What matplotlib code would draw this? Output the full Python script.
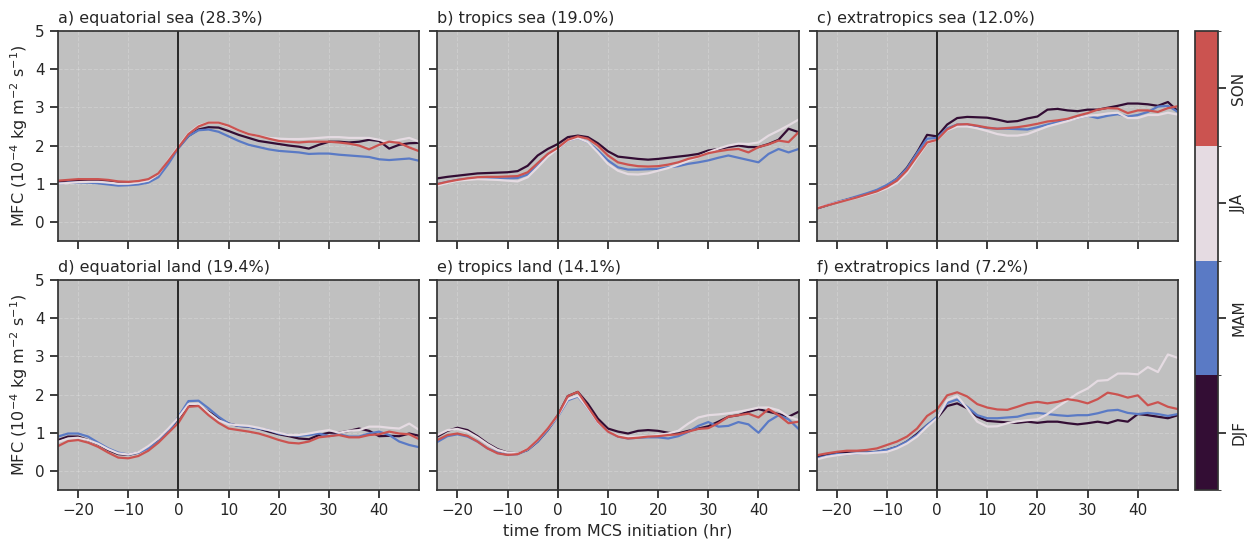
import numpy as np
import matplotlib
matplotlib.use("Agg")
import matplotlib.pyplot as plt
from matplotlib.colors import ListedColormap, BoundaryNorm
from matplotlib.colorbar import ColorbarBase

# hours relative to MCS initiation
hours = np.arange(-24, 49, 2)

seasons = ["DJF", "MAM", "JJA", "SON"]
season_colors = ["#330d34", "#5a7ac5", "#e5dbe2", "#cb5350"]

# a) equatorial sea
eq_sea_djf = [1.05, 1.07, 1.08, 1.09, 1.09, 1.07, 1.04, 1.03, 1.05, 1.10, 1.25, 1.60, 1.95, 2.25, 2.42, 2.48, 2.47, 2.38, 2.28,
              2.20, 2.12, 2.08, 2.04, 2.00, 1.97, 1.92, 2.02, 2.10, 2.10, 2.08, 2.10, 2.15, 2.12, 1.92, 2.02, 2.06, 2.07]
eq_sea_mam = [1.00, 1.03, 1.03, 1.03, 1.01, 0.98, 0.95, 0.96, 0.98, 1.03, 1.17, 1.52, 1.93, 2.25, 2.40, 2.42, 2.36, 2.24, 2.12,
              2.02, 1.96, 1.90, 1.86, 1.84, 1.82, 1.78, 1.79, 1.79, 1.76, 1.74, 1.72, 1.70, 1.64, 1.62, 1.64, 1.66, 1.60]
eq_sea_jja = [1.00, 1.02, 1.04, 1.05, 1.05, 1.03, 1.00, 1.00, 1.03, 1.08, 1.25, 1.62, 1.98, 2.32, 2.52, 2.60, 2.60, 2.50, 2.40,
              2.30, 2.25, 2.20, 2.18, 2.17, 2.17, 2.18, 2.20, 2.22, 2.22, 2.20, 2.20, 2.20, 2.15, 2.08, 2.15, 2.20, 2.10]
eq_sea_son = [1.08, 1.10, 1.12, 1.12, 1.12, 1.10, 1.06, 1.05, 1.07, 1.12, 1.27, 1.60, 1.95, 2.30, 2.50, 2.60, 2.60, 2.52, 2.40,
              2.30, 2.25, 2.18, 2.12, 2.10, 2.08, 2.10, 2.10, 2.10, 2.08, 2.05, 2.00, 1.90, 2.02, 2.10, 2.07, 1.95, 1.85]

# b) tropics sea
tr_sea_djf = [1.14, 1.18, 1.21, 1.24, 1.27, 1.28, 1.29, 1.30, 1.33, 1.47, 1.74, 1.91, 2.04, 2.22, 2.26, 2.22, 2.06, 1.85, 1.71,
              1.68, 1.65, 1.63, 1.65, 1.68, 1.71, 1.74, 1.78, 1.87, 1.91, 1.96, 2.00, 1.96, 1.96, 2.04, 2.15, 2.44, 2.35]
tr_sea_mam = [0.99, 1.05, 1.10, 1.13, 1.15, 1.14, 1.13, 1.14, 1.15, 1.24, 1.47, 1.74, 1.91, 2.13, 2.20, 2.09, 1.87, 1.61, 1.43,
              1.37, 1.37, 1.38, 1.39, 1.43, 1.46, 1.52, 1.56, 1.61, 1.68, 1.74, 1.68, 1.62, 1.56, 1.78, 1.91, 1.82, 1.91]
tr_sea_jja = [0.95, 1.02, 1.08, 1.10, 1.12, 1.11, 1.10, 1.08, 1.06, 1.17, 1.43, 1.71, 1.91, 2.13, 2.20, 2.09, 1.82, 1.52, 1.34,
              1.25, 1.24, 1.27, 1.34, 1.41, 1.50, 1.60, 1.70, 1.82, 1.92, 2.00, 2.05, 2.04, 2.08, 2.26, 2.39, 2.53, 2.68]
tr_sea_son = [0.99, 1.05, 1.10, 1.14, 1.17, 1.18, 1.18, 1.19, 1.20, 1.30, 1.54, 1.78, 1.94, 2.15, 2.24, 2.18, 2.00, 1.74, 1.56,
              1.50, 1.46, 1.45, 1.46, 1.50, 1.56, 1.65, 1.71, 1.80, 1.85, 1.89, 1.91, 1.82, 1.96, 2.03, 2.13, 2.09, 2.35]

# c) extratropics sea
ex_sea_djf = [0.35, 0.43, 0.51, 0.58, 0.65, 0.73, 0.82, 0.95, 1.13, 1.42, 1.82, 2.28, 2.24, 2.55, 2.72, 2.75, 2.74, 2.73, 2.68,
              2.62, 2.64, 2.71, 2.76, 2.94, 2.96, 2.92, 2.90, 2.94, 2.94, 2.99, 3.04, 3.10, 3.10, 3.08, 3.04, 3.14, 2.90]
ex_sea_mam = [0.35, 0.44, 0.52, 0.59, 0.67, 0.75, 0.84, 0.97, 1.13, 1.40, 1.80, 2.18, 2.20, 2.45, 2.55, 2.55, 2.50, 2.46, 2.44,
              2.44, 2.43, 2.42, 2.48, 2.55, 2.61, 2.66, 2.72, 2.78, 2.72, 2.78, 2.82, 2.76, 2.80, 2.88, 3.02, 3.04, 2.88]
ex_sea_jja = [0.37, 0.44, 0.51, 0.57, 0.63, 0.70, 0.78, 0.88, 1.02, 1.28, 1.68, 2.06, 2.15, 2.40, 2.50, 2.50, 2.45, 2.38, 2.30,
              2.26, 2.26, 2.30, 2.40, 2.50, 2.57, 2.64, 2.72, 2.78, 2.80, 2.84, 2.86, 2.72, 2.72, 2.80, 2.80, 2.86, 2.81]
ex_sea_son = [0.35, 0.43, 0.50, 0.57, 0.64, 0.72, 0.80, 0.92, 1.08, 1.35, 1.72, 2.08, 2.15, 2.42, 2.55, 2.56, 2.52, 2.47, 2.44,
              2.46, 2.48, 2.52, 2.57, 2.63, 2.66, 2.70, 2.78, 2.85, 2.94, 2.98, 2.97, 2.85, 2.92, 2.92, 2.88, 2.98, 3.03]

# d) equatorial land
eq_land_djf = [0.81, 0.90, 0.90, 0.81, 0.70, 0.55, 0.44, 0.42, 0.48, 0.62, 0.81, 1.05, 1.38, 1.70, 1.72, 1.55, 1.38, 1.24, 1.18,
               1.16, 1.11, 1.03, 0.96, 0.91, 0.85, 0.83, 0.94, 1.00, 1.00, 1.05, 1.11, 1.05, 0.91, 0.92, 0.91, 0.98, 0.92]
eq_land_mam = [0.90, 0.98, 0.98, 0.90, 0.74, 0.59, 0.48, 0.43, 0.48, 0.59, 0.77, 1.03, 1.42, 1.83, 1.84, 1.64, 1.42, 1.24, 1.18,
               1.16, 1.11, 1.07, 0.98, 0.94, 0.92, 0.94, 0.98, 0.91, 0.96, 0.90, 0.90, 0.98, 1.03, 0.94, 0.77, 0.68, 0.62]
eq_land_jja = [0.76, 0.85, 0.87, 0.81, 0.71, 0.57, 0.46, 0.43, 0.49, 0.65, 0.85, 1.11, 1.40, 1.75, 1.76, 1.53, 1.33, 1.22, 1.20,
               1.18, 1.13, 1.07, 1.00, 0.94, 0.94, 0.98, 1.03, 1.07, 1.00, 1.05, 1.07, 1.16, 1.16, 1.13, 1.11, 1.24, 1.07]
eq_land_son = [0.65, 0.78, 0.81, 0.74, 0.63, 0.48, 0.35, 0.33, 0.39, 0.53, 0.74, 1.00, 1.26, 1.68, 1.70, 1.46, 1.26, 1.11, 1.07,
               1.03, 0.98, 0.90, 0.81, 0.74, 0.72, 0.77, 0.88, 0.91, 0.94, 0.88, 0.88, 0.94, 0.96, 1.03, 0.98, 0.96, 0.83]

# e) tropics land
tr_land_djf = [0.90, 1.05, 1.13, 1.07, 0.91, 0.72, 0.57, 0.48, 0.46, 0.55, 0.77, 1.07, 1.46, 1.96, 2.07, 1.76, 1.37, 1.11, 1.03,
               0.98, 1.05, 1.07, 1.05, 1.00, 0.98, 1.05, 1.11, 1.17, 1.29, 1.42, 1.46, 1.55, 1.62, 1.55, 1.49, 1.42, 1.55]
tr_land_mam = [0.76, 0.91, 0.96, 0.90, 0.77, 0.59, 0.48, 0.42, 0.44, 0.55, 0.77, 1.07, 1.42, 1.85, 1.95, 1.64, 1.26, 1.03, 0.90,
               0.85, 0.87, 0.88, 0.88, 0.85, 0.91, 1.02, 1.18, 1.28, 1.16, 1.18, 1.28, 1.22, 1.00, 1.30, 1.46, 1.35, 1.10]
tr_land_jja = [0.94, 1.07, 1.10, 1.03, 0.88, 0.70, 0.55, 0.48, 0.46, 0.57, 0.81, 1.11, 1.44, 1.88, 1.97, 1.64, 1.26, 1.03, 0.92,
               0.90, 0.90, 0.91, 0.94, 0.98, 1.05, 1.24, 1.40, 1.46, 1.48, 1.51, 1.55, 1.60, 1.66, 1.66, 1.59, 1.42, 1.33]
tr_land_son = [0.81, 0.94, 0.98, 0.92, 0.77, 0.59, 0.46, 0.42, 0.44, 0.57, 0.81, 1.11, 1.46, 1.96, 2.07, 1.68, 1.29, 1.03, 0.90,
               0.85, 0.87, 0.90, 0.91, 0.94, 0.96, 1.03, 1.10, 1.12, 1.25, 1.42, 1.46, 1.50, 1.40, 1.62, 1.46, 1.25, 1.29]

# f) extratropics land
ex_land_djf = [0.37, 0.41, 0.48, 0.48, 0.48, 0.48, 0.50, 0.55, 0.63, 0.77, 0.97, 1.20, 1.38, 1.70, 1.77, 1.64, 1.42, 1.31, 1.29,
               1.27, 1.26, 1.29, 1.26, 1.29, 1.29, 1.25, 1.22, 1.25, 1.29, 1.25, 1.33, 1.29, 1.49, 1.46, 1.42, 1.38, 1.46]
ex_land_mam = [0.33, 0.39, 0.44, 0.44, 0.46, 0.48, 0.50, 0.55, 0.63, 0.77, 0.94, 1.20, 1.42, 1.78, 1.87, 1.68, 1.46, 1.38, 1.38,
               1.40, 1.42, 1.49, 1.52, 1.49, 1.46, 1.44, 1.46, 1.46, 1.51, 1.58, 1.60, 1.52, 1.49, 1.52, 1.49, 1.44, 1.49]
ex_land_jja = [0.30, 0.37, 0.41, 0.44, 0.46, 0.46, 0.48, 0.50, 0.59, 0.72, 0.90, 1.16, 1.38, 1.85, 1.96, 1.64, 1.29, 1.16, 1.17,
               1.25, 1.30, 1.33, 1.35, 1.49, 1.68, 1.85, 2.03, 2.16, 2.36, 2.38, 2.55, 2.55, 2.53, 2.72, 2.59, 3.05, 2.96]
ex_land_son = [0.41, 0.46, 0.50, 0.53, 0.53, 0.55, 0.59, 0.68, 0.77, 0.90, 1.11, 1.44, 1.61, 1.98, 2.06, 1.95, 1.75, 1.66, 1.61,
               1.60, 1.68, 1.77, 1.81, 1.77, 1.81, 1.88, 1.84, 1.77, 1.88, 2.05, 2.00, 1.92, 1.98, 1.72, 1.80, 1.68, 1.62]

titles = ["a) equatorial sea (28.3%)", "b) tropics sea (19.0%)", "c) extratropics sea (12.0%)",
          "d) equatorial land (19.4%)", "e) tropics land (14.1%)", "f) extratropics land (7.2%)"]
panels = [
    [eq_sea_djf, eq_sea_mam, eq_sea_jja, eq_sea_son],
    [tr_sea_djf, tr_sea_mam, tr_sea_jja, tr_sea_son],
    [ex_sea_djf, ex_sea_mam, ex_sea_jja, ex_sea_son],
    [eq_land_djf, eq_land_mam, eq_land_jja, eq_land_son],
    [tr_land_djf, tr_land_mam, tr_land_jja, tr_land_son],
    [ex_land_djf, ex_land_mam, ex_land_jja, ex_land_son],
]

text_col = "#262626"
plt.rcParams.update({
    "font.family": "DejaVu Sans",
    "font.size": 11,
    "text.color": text_col,
    "axes.labelcolor": text_col,
    "xtick.color": text_col,
    "ytick.color": text_col,
    "axes.edgecolor": "#333333",
    "axes.linewidth": 1.25,
    "xtick.major.width": 1.25,
    "ytick.major.width": 1.25,
    "xtick.major.size": 6,
    "ytick.major.size": 6,
})

fig, axes = plt.subplots(2, 3, figsize=(12.53, 5.42), dpi=100, sharex=True, sharey=True)
fig.subplots_adjust(left=0.0463, right=0.9401, top=0.9428, bottom=0.0959, wspace=0.05, hspace=0.186)

for ax, title, series in zip(axes.flat, titles, panels):
    ax.set_facecolor("#c0c0c0")
    ax.grid(True, color="white", alpha=0.2, linestyle="--", linewidth=0.8)
    ax.set_axisbelow(True)
    for vals, col in zip(series, season_colors):
        ax.plot(hours, vals, color=col, lw=1.6)
    ax.axvline(0, color="#1a1a1a", lw=1.3)
    ax.set_title(title, loc="left", fontsize=11.5, pad=6)
    ax.set_xlim(-24, 48)
    ax.set_ylim(-0.5, 5)
    ax.set_xticks([-20, -10, 0, 10, 20, 30, 40])
    ax.set_yticks([0, 1, 2, 3, 4, 5])

for ax in axes[:, 0]:
    ax.set_ylabel("MFC (10$^{-4}$ kg m$^{-2}$ s$^{-1}$)", fontsize=11.5)
axes[1, 1].set_xlabel("time from MCS initiation (hr)", fontsize=11.5)

# discrete season colorbar
cax = fig.add_axes([0.9537, 0.0959, 0.0184, 0.8469])
cmap = ListedColormap(season_colors)
norm = BoundaryNorm(np.arange(5), cmap.N)
cb = ColorbarBase(cax, cmap=cmap, norm=norm, ticks=np.arange(4) + 0.5)
cb.set_ticklabels(seasons, rotation=90, va="center")
cb.outline.set_linewidth(1.25)
cb.outline.set_edgecolor("#333333")

fig.savefig("out.png", dpi=100)
